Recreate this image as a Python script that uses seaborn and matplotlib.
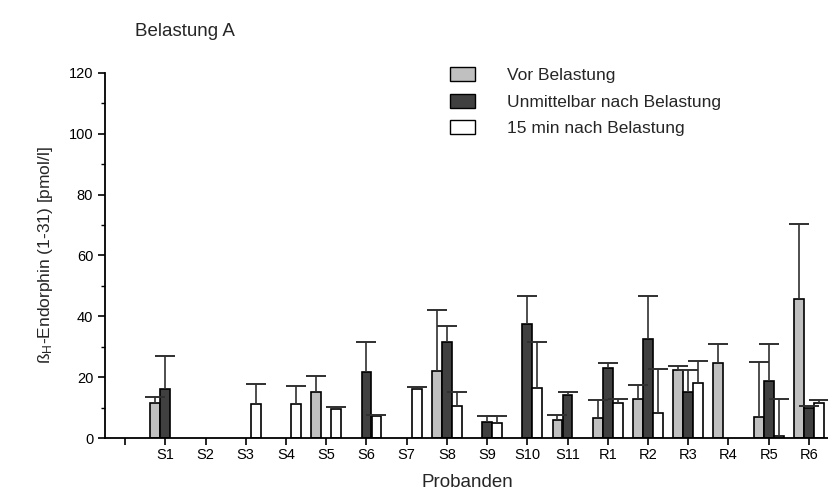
import numpy as np
import pandas as pd
import matplotlib
matplotlib.use("Agg")
import matplotlib.pyplot as plt
import seaborn as sns

categories = ["", "S1", "S2", "S3", "S4", "S5", "S6", "S7", "S8", "S9", "S10", "S11",
              "R1", "R2", "R3", "R4", "R5", "R6"]
series = ["Vor Belastung", "Unmittelbar nach Belastung", "15 min nach Belastung"]
nan = np.nan
vor = [nan, 11.4, nan, nan, nan, 15.0, nan, nan, 22.0, nan, nan, 5.8,
       6.5, 12.9, 22.4, 24.6, 6.8, 45.7]
vor_err = [nan, 2.2, nan, nan, nan, 5.5, nan, nan, 20.2, nan, nan, 1.7,
           6.1, 4.4, 1.4, 6.4, 18.1, 24.7]
unmittelbar = [nan, 16.1, nan, nan, nan, nan, 21.6, nan, 31.7, 5.2, 37.4, 14.3,
               23.0, 32.6, 15.2, nan, 18.6, 9.8]
unmittelbar_err = [nan, 10.9, nan, nan, nan, nan, 10.1, nan, 5.0, 2.0, 9.4, 0.9,
                   1.5, 14.2, 7.2, nan, 12.2, 0.8]
nach15 = [nan, nan, nan, 11.1, 11.3, 9.5, 7.1, 16.1, 10.4, 4.9, 16.6, nan,
          11.5, 8.3, 18.2, nan, 0.8, 11.4]
nach15_err = [nan, nan, nan, 6.8, 5.8, 0.8, 0.5, 0.6, 4.6, 2.2, 14.9, nan,
              1.4, 14.3, 7.1, nan, 11.9, 1.0]

values = [vor, unmittelbar, nach15]
errors = [vor_err, unmittelbar_err, nach15_err]
colors = ["#c0c0c0", "#404040", "#ffffff"]

rows = []
for s, vals in zip(series, values):
    for c, v in zip(categories, vals):
        rows.append({"Proband": c, "Gruppe": s, "Wert": v})
df = pd.DataFrame(rows)

sns.set_theme(style="ticks")
plt.rcParams["font.family"] = ["Liberation Sans", "DejaVu Sans"]
plt.rcParams["mathtext.fontset"] = "custom"
plt.rcParams["mathtext.rm"] = "Liberation Sans"
plt.rcParams["mathtext.it"] = "Liberation Sans"

fig = plt.figure(figsize=(8.29, 4.94), dpi=100)
ax = fig.add_axes([105 / 829, 56 / 494, 724 / 829, 365 / 494])

dodge_width = 0.75
sns.barplot(data=df, x="Proband", y="Wert", hue="Gruppe", order=categories,
            hue_order=series, palette=colors, width=dodge_width, gap=0.02,
            errorbar=None, edgecolor="black", linewidth=1.2, ax=ax, legend=True)

n = len(series)
bw = dodge_width / n
for j, (vals, errs) in enumerate(zip(values, errors)):
    xs, ys, es = [], [], []
    for i, (v, e) in enumerate(zip(vals, errs)):
        if not np.isnan(v):
            xs.append(i + (j - (n - 1) / 2) * bw)
            ys.append(v)
            es.append(e)
    _, caps, _ = ax.errorbar(xs, ys, yerr=[np.zeros(len(es)), es], fmt="none",
                             ecolor="#303030", elinewidth=1.2, capsize=7,
                             capthick=1.4, zorder=5)
    # keep only the upper caps
    caps[0].set_visible(False)

ax.set_xlim(-0.5, 17.5)
ax.set_ylim(0, 120)
ax.set_yticks(np.arange(0, 121, 20))
ax.set_yticks(np.arange(10, 120, 20), minor=True)
ax.set_xticks(range(len(categories)))
ax.set_xticklabels(categories)
ax.tick_params(axis="both", which="major", direction="out", length=5,
               width=1.2, color="black", labelsize=10.5, labelcolor="black")
ax.tick_params(axis="x", which="major", pad=2)
ax.tick_params(axis="y", which="minor", direction="out", length=3,
               width=1.0, color="black")
for sp in ["top", "right"]:
    ax.spines[sp].set_visible(False)
for sp in ["left", "bottom"]:
    ax.spines[sp].set_color("black")
    ax.spines[sp].set_linewidth(1.3)

ax.set_xlabel("Probanden", fontsize=13.5, labelpad=9)
ax.set_ylabel(r"ß$_{\mathrm{H}}$-Endorphin (1-31) [pmol/l]", fontsize=12.5,
              labelpad=10)

leg = ax.legend(loc="upper left", bbox_to_anchor=(450 / 829, 1 - 67 / 494),
                bbox_transform=fig.transFigure, frameon=False, fontsize=12.5,
                handlelength=1.45, handleheight=0.85, handletextpad=1.85,
                labelspacing=0.62, borderaxespad=0, borderpad=0, title=None)
for h in leg.legend_handles:
    h.set_edgecolor("black")
    h.set_linewidth(1.0)

fig.text(135 / 829, 1 - 31 / 494, "Belastung A", fontsize=13.5,
         ha="left", va="center")

fig.savefig("out.png", dpi=100)
